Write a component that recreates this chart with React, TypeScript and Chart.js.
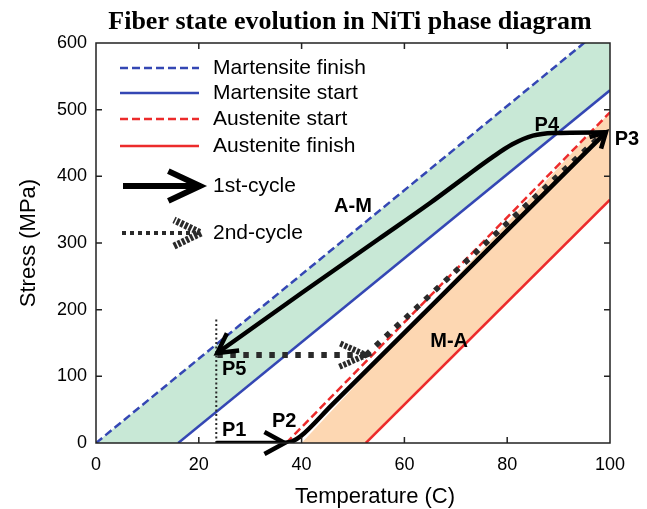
import React, { useEffect, useRef } from 'react';
import { Chart, registerables } from 'chart.js';

Chart.register(...registerables);

const SANS = '"Liberation Sans", Arial, Helvetica, sans-serif';
const SERIF = '"Liberation Serif", "Times New Roman", serif';

const BLUE = '#3447b4';
const RED = '#ec2b2b';
const GREEN_FILL = '#c8e8d6';
const ORANGE_FILL = '#fdd7b2';
const BLACK = '#000000';
const DOT = '#2a2a2a';

const TITLE = 'Fiber state evolution in NiTi phase diagram';
const X_TITLE = 'Temperature (C)';
const Y_TITLE = 'Stress (MPa)';

// Axis ticks
const tempTicks = [0, 20, 40, 60, 80, 100];
const stressTicks = [0, 100, 200, 300, 400, 500, 600];

// Transformation boundaries (temperature in C, stress in MPa)
const boundaryNames = ['Martensite finish', 'Martensite start', 'Austenite start', 'Austenite finish'];
const mfTemp = [0, 100];
const mfStress = [0, 632];
const msTemp = [16, 100];
const msStress = [0, 529];
const asTemp = [37, 100];
const asStress = [0, 496];
const afTemp = [52.5, 100];
const afStress = [0, 365];
// left edge of the shaded austenite band
const bandTemp = [40, 100];
const bandStress = [0, 496];

// 1st cycle: heating at zero stress, M-A loading, A-M unloading
const cycleNames = ['1st-cycle', '2nd-cycle'];
const heatTemp = [23.4, 36.7];
const heatStress = [0, 0];
const maTemp = [36.7, 38.2, 39.8, 46, 99.2];
const maStress = [0, 2.5, 10, 58, 466];
const amTemp = [23.6, 40, 55, 65, 72, 77, 81, 85, 89, 99.2];
const amStress = [135, 225, 306, 360, 400, 428, 448, 461, 465, 466];

// 2nd cycle
const preloadTemp = [23.4, 23.4];
const preloadStress = [0, 186];
const reheatTemp = [23.6, 52.5];
const reheatStress = [132, 132];
const reloadTemp = [52.5, 97.8];
const reloadStress = [132, 458];

// State annotations
const stateLabels = ['P1', 'P2', 'P3', 'P4', 'P5', 'A-M', 'M-A'];
const stateLabelTemp = [26.9, 36.6, 103.3, 87.7, 26.9, 50, 68.7];
const stateLabelStress = [19.5, 33, 455, 476, 111, 355, 153];

const pts = (xs: number[], ys: number[]) => xs.map((x, i) => ({ x, y: ys[i] }));

function chevron(ctx: CanvasRenderingContext2D, x0: number, y0: number, x1: number, y1: number, len: number, spread: number) {
  const a = Math.atan2(y1 - y0, x1 - x0);
  ctx.beginPath();
  ctx.moveTo(x1 - len * Math.cos(a - spread), y1 - len * Math.sin(a - spread));
  ctx.lineTo(x1, y1);
  ctx.lineTo(x1 - len * Math.cos(a + spread), y1 - len * Math.sin(a + spread));
  ctx.stroke();
}

const decor = {
  id: 'decor',
  afterDatasetsDraw(chart: any) {
    const { ctx, scales } = chart;
    const px = (t: number) => scales.x.getPixelForValue(t);
    const py = (s: number) => scales.y.getPixelForValue(s);
    ctx.save();
    ctx.lineJoin = 'miter';
    ctx.lineCap = 'butt';
    ctx.strokeStyle = BLACK;
    ctx.lineWidth = 4.5;
    // P1 -> P2
    chevron(ctx, px(heatTemp[0]), py(heatStress[0]), px(heatTemp[1]), py(heatStress[1]), 23, 0.5);
    // M-A toward P3
    const n = maTemp.length;
    chevron(ctx, px(maTemp[n - 2]), py(maStress[n - 2]), px(maTemp[n - 1]), py(maStress[n - 1]), 17, 0.5);
    // A-M toward P5
    chevron(ctx, px(amTemp[1]), py(amStress[1]), px(amTemp[0]), py(amStress[0]), 22, 0.5);
    // 2nd cycle heating arrow
    ctx.strokeStyle = DOT;
    ctx.lineWidth = 6;
    ctx.setLineDash([3, 1.5]);
    chevron(ctx, px(reheatTemp[0]), py(reheatStress[0]), px(reheatTemp[1]), py(reheatStress[1]), 29, 0.42);
    ctx.restore();
  },
  afterDraw(chart: any) {
    const { ctx, scales, chartArea } = chart;
    const { left, right, top, bottom } = chartArea;
    const px = (t: number) => scales.x.getPixelForValue(t);
    const py = (s: number) => scales.y.getPixelForValue(s);
    ctx.save();

    // frame with inward ticks
    ctx.strokeStyle = '#222';
    ctx.lineWidth = 1.5;
    ctx.setLineDash([]);
    ctx.strokeRect(left, top, right - left, bottom - top);
    ctx.beginPath();
    tempTicks.slice(1, -1).forEach((t) => {
      const x = px(t);
      ctx.moveTo(x, bottom); ctx.lineTo(x, bottom - 6);
      ctx.moveTo(x, top); ctx.lineTo(x, top + 6);
    });
    stressTicks.slice(1, -1).forEach((s) => {
      const y = py(s);
      ctx.moveTo(left, y); ctx.lineTo(left + 6, y);
      ctx.moveTo(right, y); ctx.lineTo(right - 6, y);
    });
    ctx.stroke();

    // title
    ctx.fillStyle = '#000';
    ctx.textAlign = 'center';
    ctx.textBaseline = 'alphabetic';
    ctx.font = `bold 26px ${SERIF}`;
    ctx.fillText(TITLE, 350, 29);

    // axis titles
    ctx.font = `22px ${SANS}`;
    ctx.textBaseline = 'middle';
    ctx.fillText(X_TITLE, 375, 497);
    ctx.save();
    ctx.translate(29, (top + bottom) / 2);
    ctx.rotate(-Math.PI / 2);
    ctx.fillText(Y_TITLE, 0, 0);
    ctx.restore();

    // legend
    const rowY = [68, 93, 119, 146];
    const styles = [
      { color: BLUE, dash: [8, 4] },
      { color: BLUE, dash: [] as number[] },
      { color: RED, dash: [8, 4] },
      { color: RED, dash: [] as number[] },
    ];
    ctx.lineWidth = 2.5;
    boundaryNames.forEach((name, i) => {
      ctx.strokeStyle = styles[i].color;
      ctx.setLineDash(styles[i].dash);
      ctx.beginPath();
      ctx.moveTo(120, rowY[i]);
      ctx.lineTo(199, rowY[i]);
      ctx.stroke();
    });
    ctx.setLineDash([]);
    ctx.font = `21px ${SANS}`;
    ctx.textAlign = 'left';
    ctx.fillStyle = '#000';
    boundaryNames.forEach((name, i) => ctx.fillText(name, 213, rowY[i]));

    // cycle legend entries
    ctx.strokeStyle = BLACK;
    ctx.lineWidth = 6;
    ctx.beginPath();
    ctx.moveTo(123, 186);
    ctx.lineTo(197, 186);
    ctx.stroke();
    chevron(ctx, 123, 186, 200, 186, 35, 0.44);
    ctx.strokeStyle = DOT;
    ctx.lineWidth = 4;
    ctx.setLineDash([4, 4]);
    ctx.beginPath();
    ctx.moveTo(122, 233);
    ctx.lineTo(196, 233);
    ctx.stroke();
    ctx.lineWidth = 7;
    ctx.setLineDash([3, 1.5]);
    chevron(ctx, 122, 233, 201, 233, 30, 0.45);
    ctx.setLineDash([]);
    ctx.fillStyle = '#000';
    ctx.fillText(cycleNames[0], 213, 186);
    ctx.fillText(cycleNames[1], 213, 233);

    // state annotations
    ctx.font = `bold 20px ${SANS}`;
    ctx.textAlign = 'center';
    stateLabels.forEach((lab, i) => {
      ctx.fillText(lab, px(stateLabelTemp[i]), py(stateLabelStress[i]));
    });
    ctx.restore();
  },
};

export default function App() {
  const ref = useRef<HTMLCanvasElement | null>(null);

  useEffect(() => {
    document.body.style.margin = '0';
    const canvas = ref.current;
    if (!canvas) return;
    const line = (data: any[], extra: any) => ({
      data,
      showLine: true,
      pointRadius: 0,
      pointHoverRadius: 0,
      borderWidth: 2.5,
      fill: false,
      ...extra,
    });
    const chart = new Chart(canvas, {
      type: 'scatter',
      data: {
        datasets: [
          line(pts(mfTemp, mfStress), { label: boundaryNames[0], borderColor: BLUE, borderDash: [8, 4], fill: 'origin', backgroundColor: GREEN_FILL, order: 10 }),
          line(pts(msTemp, msStress), { label: boundaryNames[1], borderColor: BLUE, fill: 'origin', backgroundColor: '#ffffff', order: 9 }),
          line(pts(bandTemp, bandStress), { label: 'band', borderWidth: 0, borderColor: 'rgba(0,0,0,0)', fill: 'origin', backgroundColor: ORANGE_FILL, order: 8 }),
          line(pts(afTemp, afStress), { label: boundaryNames[3], borderColor: RED, fill: 'origin', backgroundColor: '#ffffff', order: 7 }),
          line(pts(asTemp, asStress), { label: boundaryNames[2], borderColor: RED, borderDash: [8, 4], order: 6 }),
          line(pts(preloadTemp, preloadStress), { label: 'preload', borderColor: DOT, borderWidth: 2, borderDash: [2, 2.5], order: 5 }),
          line(pts(reheatTemp, reheatStress), { label: 'reheat', borderColor: DOT, borderWidth: 6, borderDash: [5.5, 7.5], order: 5 }),
          line(pts(reloadTemp, reloadStress), { label: 'reload', borderColor: DOT, borderWidth: 5.5, borderDash: [5.5, 8], order: 5 }),
          line(pts(heatTemp, heatStress), { label: 'heat', borderColor: BLACK, borderWidth: 4.5, order: 4 }),
          line(pts(maTemp, maStress), { label: 'M-A', borderColor: BLACK, borderWidth: 4.5, cubicInterpolationMode: 'monotone', order: 4 }),
          line(pts(amTemp, amStress), { label: 'A-M', borderColor: BLACK, borderWidth: 4.5, cubicInterpolationMode: 'monotone', order: 4 }),
        ],
      },
      options: {
        animation: false,
        responsive: false,
        devicePixelRatio: 1,
        layout: { padding: { top: 43, right: 37, left: 0, bottom: 0 } },
        plugins: {
          legend: { display: false },
          tooltip: { enabled: false },
          title: { display: false },
        },
        events: [],
        scales: {
          x: {
            type: 'linear',
            min: 0,
            max: 100,
            afterBuildTicks: (s: any) => { s.ticks = tempTicks.map((v) => ({ value: v })); },
            afterFit: (s: any) => { s.height = 66; },
            grid: { display: false, drawTicks: false },
            border: { display: false },
            ticks: { color: '#000', font: { family: SANS, size: 18 }, padding: 11, maxRotation: 0 },
          },
          y: {
            type: 'linear',
            min: 0,
            max: 600,
            afterBuildTicks: (s: any) => { s.ticks = stressTicks.map((v) => ({ value: v })); },
            afterFit: (s: any) => { s.width = 96; },
            grid: { display: false, drawTicks: false },
            border: { display: false },
            ticks: { color: '#000', font: { family: SANS, size: 18 }, padding: 9 },
          },
        },
      },
      plugins: [decor],
    } as any);
    return () => chart.destroy();
  }, []);

  return (
    <div style={{ width: 647, height: 509 }}>
      <canvas ref={ref} width={647} height={509} style={{ display: 'block', width: 647, height: 509 }} />
    </div>
  );
}
